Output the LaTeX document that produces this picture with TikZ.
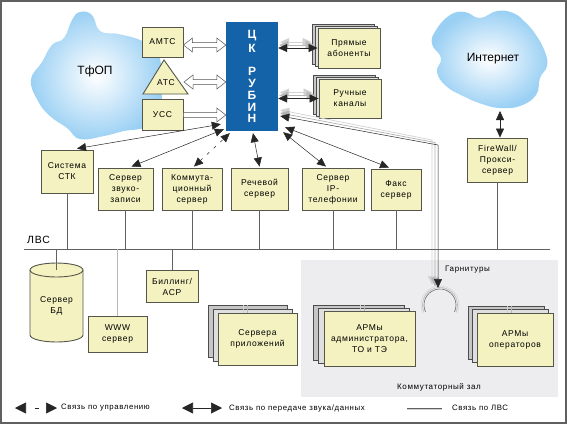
\documentclass[tikz,border=0pt]{standalone}
\usepackage{fontspec}
\setmainfont{Liberation Sans}
\newfontfamily\boxfont{Liberation Sans}[LetterSpace=8]
\usetikzlibrary{arrows.meta,calc}
\definecolor{boxfill}{HTML}{F4F2C0}
\definecolor{boxline}{HTML}{55554A}
\definecolor{ckblue}{HTML}{1462A8}
\definecolor{cloudblue}{HTML}{9AD0F4}
\definecolor{hallgray}{HTML}{EDEDEF}
\definecolor{lanline}{HTML}{606060}
\begin{document}
\begin{tikzpicture}[x=1pt,y=-1pt,
  box/.style={draw=boxline, fill=boxfill, line width=0.9pt, align=center, inner sep=1pt,
    font=\boxfont\fontsize{8.5}{11}\selectfont},
  backA/.style={draw=gray!60!black, fill=gray!45, line width=0.7pt},
  backB/.style={draw=gray!60!black, fill=gray!25, line width=0.7pt},
  lbl/.style={font=\boxfont\fontsize{8.5}{11}\selectfont, align=center, inner sep=0pt},
  dlink/.style={draw=black!85, line width=0.5pt, {Triangle[length=9pt,width=8pt]}-{Triangle[length=9pt,width=8pt]}},
  ctlink/.style={draw=black!85, line width=0.5pt, dash pattern=on 3pt off 6pt, {Triangle[length=9pt,width=8pt]}-{Triangle[length=9pt,width=8pt]}},
  glink/.style={draw=gray!50, line width=0.6pt, {Triangle[length=9pt,width=8pt]}-{Triangle[length=9pt,width=8pt]}},
  hollowarr/.style={draw=gray!65!black, fill=white, line width=0.5pt},
  lan/.style={draw=lanline, line width=0.7pt},
  lanlight/.style={draw=gray!35, line width=0.9pt}
]
\useasboundingbox (0,0) rectangle (567,424);
\fill[white] (0,0) rectangle (567,424);
\draw[line width=1.6pt, gray!75!black] (1,1) rectangle (566,423);

% hall
\fill[hallgray] (301,260) rectangle (558,397);
\node[lbl, font=\boxfont\fontsize{8}{10}\selectfont] (hall) at (439,387) {Коммутаторный зал};

% clouds
\shade[inner color=white, outer color=cloudblue]
  plot[smooth cycle, tension=0.75] coordinates {(80,12) (92,15) (100,31) (118,34) (140,40) (154,50) (161,64) (157,80) (162,97) (158,114) (146,127) (124,131) (104,136) (80,139) (67,128) (50,116) (38,101) (31,80) (42,62) (52,45) (64,38) (72,20)};
\node[font=\fontsize{12}{14}\selectfont] (tfop) at (95,71) {ТфОП};
\shade[inner color=white, outer color=cloudblue]
  plot[smooth cycle, tension=0.75] coordinates {(436,30) (450,15) (465,12) (480,18) (497,11) (513,13) (525,22) (536,35) (545,52) (547,66) (540,78) (536,95) (520,106) (500,108) (482,104) (463,96) (446,86) (437,72) (441,58) (432,44)};
\node[font=\fontsize{12}{14}\selectfont] (inet) at (493,59) {Интернет};

% left exchanges
\node[box, minimum width=41pt, minimum height=30pt] (amts) at (162.5,42) {АМТС};
\draw[draw=boxline, fill=boxfill, line width=0.9pt] (164,60) -- (188,94) -- (143,94) -- cycle;
\node[lbl] (ats) at (166,83) {АТС};
\node[box, minimum width=41pt, minimum height=31pt] (uss) at (162.5,115) {УСС};

% central
\node[fill=ckblue, minimum width=52pt, minimum height=109pt, inner sep=0pt, text=white, align=center,
  font=\fontsize{12}{11.7}\selectfont\bfseries] (ck) at (252,76.5)
  {Ц\\[2pt]К\\[12pt]Р\\У\\Б\\И\\Н};

% hollow arrows
\path let \p1=($(amts.east)+(0,3)$), \p2=($(ck.west |- amts.east)+(0,3)$) in
  [hollowarr] (\x1,\y1) -- (\x1+9pt,\y1+7pt) -- (\x1+9pt,\y1+2.5pt) -- (\x2-9pt,\y1+2.5pt) -- (\x2-9pt,\y1+7pt)
  -- (\x2,\y1) -- (\x2-9pt,\y1-7pt) -- (\x2-9pt,\y1-2.5pt) -- (\x1+9pt,\y1-2.5pt) -- (\x1+9pt,\y1-7pt) -- cycle;
\path let \p1=($(ats)+(18,-1)$), \p2=($(ck.west |- ats)+(0,-1)$) in
  [hollowarr] (\x1,\y1) -- (\x1+9pt,\y1+7pt) -- (\x1+9pt,\y1+2.5pt) -- (\x2-9pt,\y1+2.5pt) -- (\x2-9pt,\y1+7pt)
  -- (\x2,\y1) -- (\x2-9pt,\y1-7pt) -- (\x2-9pt,\y1-2.5pt) -- (\x1+9pt,\y1-2.5pt) -- (\x1+9pt,\y1-7pt) -- cycle;
\path let \p1=($(uss.east)+(0,0)$), \p2=($(ck.west |- uss.east)+(0,0)$) in
  [hollowarr] (\x1,\y1+2.5pt) -- (\x2-9pt,\y1+2.5pt) -- (\x2-9pt,\y1+7pt)
  -- (\x2,\y1) -- (\x2-9pt,\y1-7pt) -- (\x2-9pt,\y1-2.5pt) -- (\x1,\y1-2.5pt) -- cycle;

% right stacked boxes
\draw[backA] (312,24) rectangle (374,64);
\draw[backB] (315,26) rectangle (377,66);
\node[box, minimum width=62pt, minimum height=40pt] (pryam) at (349,48) {Прямые\\абоненты};
\draw[backA] (313,75) rectangle (375,114);
\draw[backB] (316,77) rectangle (378,116);
\node[box, minimum width=62pt, minimum height=39pt] (ruch) at (350,98.5) {Ручные\\каналы};

\draw[glink, draw=gray!35, {Triangle[length=9pt,width=8pt,fill=gray!35]}-{Triangle[length=9pt,width=8pt,fill=gray!35]}] ($(ck.east |- pryam)+(2,-6)$) -- ($(pryam.west)+(-6,-6)$);
\draw[glink, draw=gray!55, {Triangle[length=9pt,width=8pt,fill=gray!55]}-{Triangle[length=9pt,width=8pt,fill=gray!55]}] ($(ck.east |- pryam)+(1,-3)$) -- ($(pryam.west)+(-3,-3)$);
\draw[dlink] (ck.east |- pryam) -- (pryam.west);
\draw[glink, draw=gray!35, {Triangle[length=9pt,width=8pt,fill=gray!35]}-{Triangle[length=9pt,width=8pt,fill=gray!35]}] ($(ck.east |- ruch)+(2,-6)$) -- ($(ruch.west)+(-6,-6)$);
\draw[glink, draw=gray!55, {Triangle[length=9pt,width=8pt,fill=gray!55]}-{Triangle[length=9pt,width=8pt,fill=gray!55]}] ($(ck.east |- ruch)+(1,-3)$) -- ($(ruch.west)+(-3,-3)$);
\draw[dlink] (ck.east |- ruch) -- (ruch.west);

% servers row
\node[box, minimum width=52pt, minimum height=43pt] (stk) at (67,171.5) {Система\\СТК};
\node[box, minimum width=55pt, minimum height=42pt] (zvuk) at (125.5,189) {Сервер\\звуко-\\записи};
\node[box, minimum width=60pt, minimum height=42pt] (komm) at (192,189) {Коммута-\\ционный\\сервер};
\node[box, minimum width=57pt, minimum height=42pt] (rech) at (259.5,189) {Речевой\\сервер};
\node[box, minimum width=62pt, minimum height=42pt] (ip) at (333,189) {Сервер\\IP-\\телефонии};
\node[box, minimum width=50pt, minimum height=41pt] (fax) at (396,189.5) {Факс\\сервер};
\node[box, minimum width=60pt, minimum height=44pt] (fw) at (497.5,160) {FireWall/\\Прокси-\\сервер};

% links to ЦК
\draw[dlink] ($(stk.north)+(10,-1)$) -- ($(ck.south west)+(-5,-7)$);
\draw[dlink] ($(zvuk.north)+(6,-1)$) -- ($(ck.south west)+(-2,-2)$);
\draw[ctlink] ($(komm.north)+(2,-1)$) -- ($(ck.south west)+(4,2)$);
\draw[dlink] ($(rech.north)+(0,-1)$) -- ($(ck.south)+(1,2)$);
\draw[dlink] ($(ip.north)+(-7,-1)$) -- ($(ck.south east)+(5,1)$);
\draw[dlink] ($(fax.north)+(-7,-1)$) -- ($(ck.south east)+(7,-4)$);
\draw[dlink] (500,111) -- (fw.north -| 500,0);

% headset
\coordinate (hs) at (440,305);
\foreach \r/\c in {19/gray!30, 17.5/gray!55, 16/gray!85!black}
  \draw[\c, line width=0.6pt] (hs) ++(205:\r pt) arc[start angle=205, end angle=-25, radius=\r pt];
\node[anchor=west, lbl, font=\boxfont\fontsize{8}{10}\selectfont] (garn) at (445,270) {Гарнитуры};
\draw[draw=gray!35, line width=0.7pt, {Triangle[length=9pt,width=8pt,fill=gray!35]}-{Triangle[length=9pt,width=8pt,fill=gray!35]}]
  ($(ck.east)+(2,33.5)$) -- (432,140) -- (432,285);
\draw[draw=gray!60, line width=0.7pt, {Triangle[length=9pt,width=8pt,fill=gray!60]}-{Triangle[length=9pt,width=8pt,fill=gray!60]}]
  ($(ck.east)+(2,36.5)$) -- (435,142.5) -- (435,286.5);
\draw[dlink] ($(ck.east)+(2,39.5)$) -- (438,145) -- (438,288);

% LAN
\coordinate (lanL) at (24,249);
\coordinate (lanR) at (550,249);
\draw[lan] (lanL) -- (lanR);
\node[anchor=west, font=\boxfont\fontsize{10.5}{12}\selectfont, inner sep=0pt] (lvs) at (27,240) {ЛВС};
\foreach \n in {stk,zvuk,komm,rech,ip,fax,fw}
  \draw[lan] (\n.south) -- (\n.south |- lanL);

% below LAN
\coordinate (dbtop) at (56.5,270);
\fill[boxfill] (30,270) -- (30,335) arc[start angle=180, end angle=360, x radius=26.5pt, y radius=7pt] -- (83,270) -- cycle;
\draw[boxline, line width=0.9pt] (30,270) -- (30,335) arc[start angle=180, end angle=360, x radius=26.5pt, y radius=7pt] -- (83,270);
\draw[boxline, fill=boxfill, line width=0.9pt] (dbtop) ellipse[x radius=26.5pt, y radius=7pt];
\node[lbl] (db) at (56.5,306) {Сервер\\БД};
\draw[lan] (dbtop) -- (dbtop |- lanL);

\node[box, minimum width=59pt, minimum height=36pt] (www) at (117.5,334) {WWW\\сервер};
\draw[draw=gray!55, line width=1.2pt] (www.north) -- (www.north |- lanL);
\node[box, minimum width=52pt, minimum height=32pt] (bill) at (172,286.5) {Биллинг/\\АСР};
\draw[lan] (bill.north) -- (bill.north |- lanL);

\draw[backA] (208,305) rectangle (287,357);
\draw[backB] (213,309) rectangle (292,361);
\node[box, minimum width=79pt, minimum height=52pt] (app) at (257.5,339) {Сервера\\приложений};
\draw[lanlight] ($(app.north)+(-14.5,-8)$) -- ($(app.north)+(-14.5,0)$ |- lanL);
\draw[draw=gray!55, line width=0.7pt] ($(app.north)+(-10.5,-8)$) -- ($(app.north)+(-10.5,0)$ |- lanL);
\draw[lan] ($(app.north)+(-4.5,0)$) -- ($(app.north)+(-4.5,0)$ |- lanL);

\draw[backA] (313,305) rectangle (404,360);
\draw[backB] (318.5,308) rectangle (409.5,363);
\node[box, minimum width=91pt, minimum height=55pt] (arma) at (369.5,338.5) {АРМы\\администратора,\\ТО и ТЭ};
\draw[lanlight] ($(arma.north)+(-9.5,-6)$) -- ($(arma.north)+(-9.5,0)$ |- lanL);
\draw[draw=gray!55, line width=0.7pt] ($(arma.north)+(-5,-6)$) -- ($(arma.north)+(-5,0)$ |- lanL);
\draw[lan] ($(arma.north)+(0.5,0)$) -- ($(arma.north)+(0.5,0)$ |- lanL);

\draw[backA] (468,306) rectangle (544,359);
\draw[backB] (472.5,309.5) rectangle (548.5,362.5);
\node[box, minimum width=76pt, minimum height=53pt] (armo) at (515,339.5) {АРМы\\операторов};
\draw[lanlight] ($(armo.north)+(-8,-7)$) -- ($(armo.north)+(-8,0)$ |- lanL);
\draw[draw=gray!55, line width=0.7pt] ($(armo.north)+(-4,-7)$) -- ($(armo.north)+(-4,0)$ |- lanL);
\draw[lan] ($(armo.north)+(1,0)$) -- ($(armo.north)+(1,0)$ |- lanL);

% legend
\coordinate (lg1a) at (15,408); \coordinate (lg1b) at (57,408);
\draw[draw=black!85, line width=0.6pt, dash pattern=on 0pt off 9pt on 4pt off 60pt,
  {Triangle[length=11pt,width=11pt]}-{Triangle[length=11pt,width=11pt]}] (lg1a) -- (lg1b);
\node[anchor=west, lbl, font=\boxfont\fontsize{7.8}{10}\selectfont] (lgt1) at (61,408) {Связь по управлению};
\coordinate (lg2a) at (182,408); \coordinate (lg2b) at (222,408);
\draw[draw=black!85, line width=0.6pt,
  {Triangle[length=11pt,width=11pt]}-{Triangle[length=11pt,width=11pt]}] (lg2a) -- (lg2b);
\node[anchor=west, lbl, font=\boxfont\fontsize{7.8}{10}\selectfont] (lgt2) at (229,408) {Связь по передаче звука/данных};
\coordinate (lg3a) at (407,408); \coordinate (lg3b) at (442,408);
\draw[lanlight] ($(lg3a)+(0,1.2)$) -- ($(lg3b)+(0,1.2)$);
\draw[lan] (lg3a) -- (lg3b);
\node[anchor=west, lbl, font=\boxfont\fontsize{7.8}{10}\selectfont] (lgt3) at (452,408) {Связь по ЛВС};
\end{tikzpicture}
\end{document}
